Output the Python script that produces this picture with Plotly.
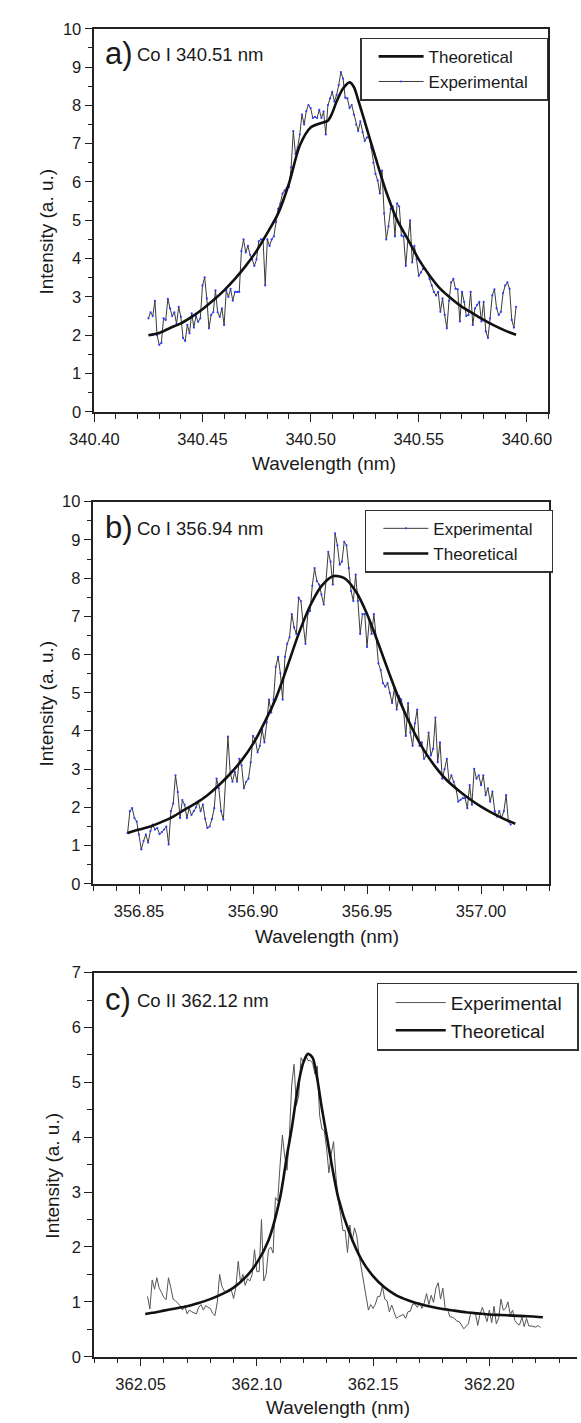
import plotly.graph_objects as go

W, H = 581, 1423

# ---------------- Panel a: Co I 340.51 nm ----------------
a_exp_x = [
    340.425, 340.426, 340.427, 340.428, 340.429, 340.430, 340.431, 340.432, 340.433, 340.434,
    340.435, 340.436, 340.437, 340.438, 340.439, 340.440, 340.441, 340.442, 340.443, 340.444,
    340.445, 340.446, 340.447, 340.448, 340.449, 340.450, 340.451, 340.452, 340.453, 340.454,
    340.455, 340.456, 340.457, 340.458, 340.459, 340.460, 340.461, 340.462, 340.463, 340.464,
    340.465, 340.466, 340.467, 340.468, 340.469, 340.470, 340.471, 340.472, 340.473, 340.474,
    340.475, 340.476, 340.477, 340.478, 340.479, 340.480, 340.481, 340.482, 340.483, 340.484,
    340.485, 340.486, 340.487, 340.488, 340.489, 340.490, 340.491, 340.492, 340.493, 340.494,
    340.495, 340.496, 340.497, 340.498, 340.499, 340.500, 340.501, 340.502, 340.503, 340.504,
    340.505, 340.506, 340.507, 340.508, 340.509, 340.510, 340.511, 340.512, 340.513, 340.514,
    340.515, 340.516, 340.517, 340.518, 340.519, 340.520, 340.521, 340.522, 340.523, 340.524,
    340.525, 340.526, 340.527, 340.528, 340.529, 340.530, 340.531, 340.532, 340.533, 340.534,
    340.535, 340.536, 340.537, 340.538, 340.539, 340.540, 340.541, 340.542, 340.543, 340.544,
    340.545, 340.546, 340.547, 340.548, 340.549, 340.550, 340.551, 340.552, 340.553, 340.554,
    340.555, 340.556, 340.557, 340.558, 340.559, 340.560, 340.561, 340.562, 340.563, 340.564,
    340.565, 340.566, 340.567, 340.568, 340.569, 340.570, 340.571, 340.572, 340.573, 340.574,
    340.575, 340.576, 340.577, 340.578, 340.579, 340.580, 340.581, 340.582, 340.583, 340.584,
    340.585, 340.586, 340.587, 340.588, 340.589, 340.590, 340.591, 340.592, 340.593, 340.594,
    340.595]
a_exp_y = [
    2.44, 2.6, 2.5, 2.9, 2.0, 1.75, 1.8, 2.44, 2.4, 2.95,
    2.7, 2.5, 2.6, 2.3, 2.74, 2.48, 1.93, 1.85, 2.27, 2.05,
    2.57, 2.2, 2.5, 2.35, 2.44, 3.3, 3.51, 2.96, 2.18, 2.53,
    2.6, 3.17, 2.6, 2.48, 2.7, 2.27, 3.17, 3.0, 3.21, 2.9,
    3.13, 3.13, 3.13, 4.2, 4.5, 4.16, 4.33, 4.1, 3.98, 3.81,
    3.98, 4.45, 4.5, 4.5, 3.3, 4.5, 4.33, 4.5, 4.58, 4.95,
    5.3, 5.44, 5.7, 5.78, 5.85, 5.87, 6.38, 7.33, 6.73, 6.9,
    7.24, 7.76, 7.5, 7.85, 8.01, 7.93, 7.67, 7.7, 7.67, 7.88,
    7.67, 7.84, 7.24, 8.01, 8.18, 8.35, 8.1, 8.27, 8.53, 8.87,
    8.7, 8.2, 8.18, 7.93, 8.01, 7.76, 7.5, 7.33, 7.58, 7.3,
    7.07, 7.16, 7.2, 6.9, 6.5, 6.21, 6.04, 5.7, 6.3, 5.18,
    4.5, 4.84, 5.3, 5.36, 4.58, 5.44, 5.36, 4.6, 4.58, 3.81,
    4.5, 5.0, 3.9, 4.33, 3.98, 3.55, 3.64, 3.73, 3.73, 3.64,
    3.47, 3.3, 3.13, 3.04, 3.13, 2.61, 2.96, 2.53, 2.18, 2.9,
    3.38, 3.47, 3.21, 3.2, 2.36, 3.13, 2.87, 2.5, 2.53, 3.13,
    2.27, 2.7, 2.79, 2.87, 2.36, 2.87, 2.1, 1.93, 2.44, 3.04,
    3.2, 2.7, 2.53, 2.61, 3.1, 3.3, 3.38, 3.21, 2.4, 2.2,
    2.74]
a_th_x = [340.425, 340.430, 340.435, 340.440, 340.445, 340.450, 340.455, 340.460, 340.465,
          340.470, 340.475, 340.480, 340.485, 340.490, 340.495, 340.500, 340.505, 340.508,
          340.510, 340.512, 340.515, 340.518, 340.520, 340.522, 340.525, 340.530, 340.535,
          340.540, 340.545, 340.550, 340.555, 340.560, 340.565, 340.570, 340.575, 340.580,
          340.585, 340.590, 340.595]
a_th_y = [2.0, 2.06, 2.19, 2.31, 2.48, 2.68, 2.91, 3.17, 3.47,
          3.81, 4.2, 4.67, 5.18, 5.96, 6.95, 7.42, 7.54, 7.6,
          7.8, 8.1, 8.44, 8.6, 8.48, 8.14, 7.58, 6.64, 5.74,
          5.01, 4.5, 3.98, 3.56, 3.21, 2.96, 2.74, 2.57, 2.4,
          2.25, 2.12, 2.01]

# ---------------- Panel b: Co I 356.94 nm ----------------
b_exp_x = [
    356.845, 356.846, 356.847, 356.848, 356.849, 356.850, 356.851, 356.852, 356.853, 356.854,
    356.855, 356.856, 356.857, 356.858, 356.859, 356.860, 356.861, 356.862, 356.863, 356.864,
    356.865, 356.866, 356.867, 356.868, 356.869, 356.870, 356.871, 356.872, 356.873, 356.874,
    356.875, 356.876, 356.877, 356.878, 356.879, 356.880, 356.881, 356.882, 356.883, 356.884,
    356.885, 356.886, 356.887, 356.888, 356.889, 356.890, 356.891, 356.892, 356.893, 356.894,
    356.895, 356.896, 356.897, 356.898, 356.899, 356.900, 356.901, 356.902, 356.903, 356.904,
    356.905, 356.906, 356.907, 356.908, 356.909, 356.910, 356.911, 356.912, 356.913, 356.914,
    356.915, 356.916, 356.917, 356.918, 356.919, 356.920, 356.921, 356.922, 356.923, 356.924,
    356.925, 356.926, 356.927, 356.928, 356.929, 356.930, 356.931, 356.932, 356.933, 356.934,
    356.935, 356.936, 356.937, 356.938, 356.939, 356.940, 356.941, 356.942, 356.943, 356.944,
    356.945, 356.946, 356.947, 356.948, 356.949, 356.950, 356.951, 356.952, 356.953, 356.954,
    356.955, 356.956, 356.957, 356.958, 356.959, 356.960, 356.961, 356.962, 356.963, 356.964,
    356.965, 356.966, 356.967, 356.968, 356.969, 356.970, 356.971, 356.972, 356.973, 356.974,
    356.975, 356.976, 356.977, 356.978, 356.979, 356.980, 356.981, 356.982, 356.983, 356.984,
    356.985, 356.986, 356.987, 356.988, 356.989, 356.990, 356.991, 356.992, 356.993, 356.994,
    356.995, 356.996, 356.997, 356.998, 356.999, 357.000, 357.001, 357.002, 357.003, 357.004,
    357.005, 357.006, 357.007, 357.008, 357.009, 357.010, 357.011, 357.012, 357.013]
b_exp_y = [
    1.33, 1.9, 1.98, 1.72, 1.63, 1.29, 0.9, 1.12, 1.29, 1.08,
    1.38, 1.55, 1.42, 1.46, 1.3, 1.35, 1.42, 1.5, 1.03, 1.9,
    2.1, 2.84, 2.4, 1.72, 2.19, 2.07, 1.72, 1.98, 1.8, 1.9,
    2.0, 2.15, 1.9, 2.07, 1.7, 1.46, 1.5, 1.7, 1.98, 2.75,
    2.5, 1.9, 1.68, 2.75, 3.85, 2.9, 2.67, 2.93, 2.67, 3.27,
    3.1, 2.5, 2.67, 2.75, 3.18, 3.87, 3.79, 3.44, 3.61, 4.04,
    3.7, 4.22, 4.82, 4.48, 4.82, 5.68, 5.94, 5.51, 4.82, 5.94,
    6.28, 6.45, 7.06, 6.71, 6.54, 7.49, 7.4, 6.8, 6.28, 7.06,
    7.14, 7.8, 8.26, 7.92, 7.83, 7.57, 7.31, 7.92, 8.69, 8.43,
    7.83, 9.17, 8.86, 8.35, 8.43, 8.95, 8.86, 8.26, 7.66, 7.4,
    8.09, 7.4, 6.54, 7.06, 7.06, 6.2, 6.9, 6.54, 7.06, 6.45,
    5.77, 5.59, 5.25, 5.16, 5.25, 4.99, 4.73, 5.12, 4.56, 4.91,
    4.82, 4.56, 3.87, 4.73, 3.96, 3.61, 4.2, 4.56, 3.61, 3.7,
    3.27, 3.36, 3.96, 3.36, 3.53, 4.35, 3.18, 3.7, 2.75, 3.0,
    3.27, 2.67, 2.84, 2.67, 2.5, 2.15, 2.2, 2.24, 2.24, 1.98,
    2.58, 2.07, 3.01, 2.75, 2.84, 2.58, 2.84, 2.32, 2.5, 2.15,
    2.41, 1.9, 1.76, 1.9, 1.72, 1.9, 2.32, 1.63, 1.55]
b_th_x = [356.845, 356.850, 356.855, 356.860, 356.865, 356.870, 356.875, 356.880, 356.885,
          356.890, 356.895, 356.900, 356.905, 356.910, 356.915, 356.920, 356.925, 356.930,
          356.935, 356.940, 356.945, 356.950, 356.955, 356.960, 356.965, 356.970, 356.975,
          356.980, 356.985, 356.990, 356.995, 357.000, 357.005, 357.010, 357.015]
b_th_y = [1.33, 1.42, 1.5, 1.62, 1.76, 1.94, 2.11, 2.32, 2.58,
          2.88, 3.23, 3.66, 4.22, 4.85, 5.68, 6.54, 7.27, 7.79,
          8.05, 8.0, 7.66, 7.06, 6.28, 5.46, 4.69, 4.04, 3.49,
          3.06, 2.71, 2.45, 2.22, 2.02, 1.85, 1.7, 1.57]

# ---------------- Panel c: Co II 362.12 nm ----------------
c_exp_x = [
    362.053, 362.054, 362.055, 362.056, 362.057, 362.058, 362.059, 362.060, 362.061, 362.062,
    362.063, 362.064, 362.065, 362.066, 362.067, 362.068, 362.069, 362.070, 362.071, 362.072,
    362.073, 362.074, 362.075, 362.076, 362.077, 362.078, 362.079, 362.080, 362.081, 362.082,
    362.083, 362.084, 362.085, 362.086, 362.087, 362.088, 362.089, 362.090, 362.091, 362.092,
    362.093, 362.094, 362.095, 362.096, 362.097, 362.098, 362.099, 362.100, 362.101, 362.102,
    362.103, 362.104, 362.105, 362.106, 362.107, 362.108, 362.109, 362.110, 362.111, 362.112,
    362.113, 362.114, 362.115, 362.116, 362.117, 362.118, 362.119, 362.120, 362.121, 362.122,
    362.123, 362.124, 362.125, 362.126, 362.127, 362.128, 362.129, 362.130, 362.131, 362.132,
    362.133, 362.134, 362.135, 362.136, 362.137, 362.138, 362.139, 362.140, 362.141, 362.142,
    362.143, 362.144, 362.145, 362.146, 362.147, 362.148, 362.149, 362.150, 362.151, 362.152,
    362.153, 362.154, 362.155, 362.156, 362.157, 362.158, 362.159, 362.160, 362.161, 362.162,
    362.163, 362.164, 362.165, 362.166, 362.167, 362.168, 362.169, 362.170, 362.171, 362.172,
    362.173, 362.174, 362.175, 362.176, 362.177, 362.178, 362.179, 362.180, 362.181, 362.182,
    362.183, 362.184, 362.185, 362.186, 362.187, 362.188, 362.189, 362.190, 362.191, 362.192,
    362.193, 362.194, 362.195, 362.196, 362.197, 362.198, 362.199, 362.200, 362.201, 362.202,
    362.203, 362.204, 362.205, 362.206, 362.207, 362.208, 362.209, 362.210, 362.211, 362.212,
    362.213, 362.214, 362.215, 362.216, 362.217, 362.218, 362.219, 362.220, 362.221, 362.222]
c_exp_y = [
    1.1, 0.87, 1.4, 1.23, 1.44, 1.25, 1.17, 1.08, 1.04, 1.44,
    1.26, 1.05, 1.02, 0.97, 0.93, 0.85, 0.93, 0.78, 0.85, 0.82,
    0.8, 0.78, 0.9, 0.95, 0.85, 0.93, 0.9, 0.88, 0.79, 0.75,
    1.0, 1.5, 1.28, 1.2, 1.17, 1.2, 1.22, 1.06, 1.27, 1.74,
    1.35, 1.5, 1.3, 1.42, 1.38, 1.5, 1.95, 1.55, 1.55, 2.5,
    1.38, 1.5, 1.95, 2.0, 1.89, 2.9, 2.84, 3.5, 4.04, 3.65,
    3.4, 4.04, 4.95, 5.33, 4.58, 4.75, 5.45, 5.38, 5.5, 5.4,
    5.4, 5.35, 5.15, 5.3, 4.4, 4.15, 4.12, 3.8, 3.35, 3.7,
    3.92, 3.3, 2.85, 2.6, 2.3, 2.3, 1.9, 2.4, 2.1, 2.35,
    2.2, 1.85, 1.6, 1.38, 1.1, 0.85, 0.95, 0.88, 0.96, 1.1,
    1.1, 1.29, 1.05, 1.02, 0.82, 0.94, 0.82, 0.7, 0.73, 0.75,
    0.77, 0.7, 0.82, 0.83, 0.96, 0.96, 0.9, 0.99, 0.88, 0.98,
    1.15, 0.95, 1.12, 0.99, 1.25, 1.35, 1.05, 1.25, 0.88, 0.87,
    0.73, 0.72, 0.7, 0.65, 0.64, 0.58, 0.51, 0.55, 0.6, 0.8,
    0.8, 0.8, 0.57, 0.78, 0.9, 0.78, 0.64, 0.85, 0.62, 0.92,
    0.6, 0.7, 1.05, 0.85, 0.88, 1.0, 0.76, 0.85, 0.66, 0.6,
    0.58, 0.72, 0.55, 0.7, 0.56, 0.56, 0.55, 0.54, 0.57, 0.53]
c_th_x = [362.052, 362.055, 362.060, 362.065, 362.070, 362.075, 362.080, 362.085, 362.090,
          362.095, 362.100, 362.105, 362.110, 362.113, 362.115, 362.118, 362.120, 362.122,
          362.124, 362.126, 362.128, 362.130, 362.135, 362.140, 362.145, 362.150, 362.155,
          362.160, 362.165, 362.170, 362.175, 362.180, 362.185, 362.190, 362.195, 362.200,
          362.205, 362.210, 362.215, 362.220, 362.223]
c_th_y = [0.78, 0.8, 0.84, 0.88, 0.92, 0.98, 1.05, 1.14, 1.26,
          1.44, 1.71, 2.12, 2.9, 3.68, 4.16, 5.0, 5.36, 5.52,
          5.45, 5.06, 4.52, 4.04, 2.9, 2.24, 1.77, 1.47, 1.26,
          1.12, 1.03, 0.96, 0.91, 0.87, 0.84, 0.81, 0.79, 0.77,
          0.76, 0.75, 0.74, 0.73, 0.72]

labels = ["a)", "b)", "c)"]
lines = ["Co I 340.51 nm", "Co I 356.94 nm", "Co II 362.12 nm"]
x_ranges = [[340.40, 340.61], [356.83, 357.03], [362.03, 362.2377]]
y_ranges = [[0, 10], [0, 10], [0, 7]]
x_tick0 = [340.40, 356.85, 362.05]

FONT = "Liberation Sans, Arial, Helvetica, sans-serif"
TXT = "#1a1a1a"
AX = "#222222"
PADS = ["\u00a0\u00a0\u00a0", "\u00a0\u00a0\u00a0", "\u00a0\u00a0"]


def px_x(p):
    return p / W


def px_y(p):
    return 1 - p / H


# panel geometry in pixels: (left, right, top, bottom)
geom = [(73, 551, 20, 408), (72, 552, 499, 886), (72.7, 581, 976, 1365)]

fig = go.Figure()

panels = [
    (a_exp_x, a_exp_y, a_th_x, a_th_y, True, (2, 1)),
    (b_exp_x, b_exp_y, b_th_x, b_th_y, True, (1, 2)),
    (c_exp_x, c_exp_y, c_th_x, c_th_y, False, (1, 2)),
]

for i, (ex, ey, tx, ty, dots, ranks) in enumerate(panels):
    sfx = "" if i == 0 else str(i + 1)
    leg = "legend" + sfx
    if dots:
        exp_trace = go.Scatter(
            x=ex, y=ey, mode="lines+markers", name="Experimental" + PADS[i],
            line=dict(color="#3a3a3a", width=1),
            marker=dict(color="#2b3cff", size=2.2),
            xaxis="x" + sfx, yaxis="y" + sfx, legend=leg, legendrank=ranks[0])
    else:
        exp_trace = go.Scatter(
            x=ex, y=ey, mode="lines", name="Experimental" + PADS[i],
            line=dict(color="#555555", width=1),
            xaxis="x" + sfx, yaxis="y" + sfx, legend=leg, legendrank=ranks[0])
    fig.add_trace(exp_trace)
    fig.add_trace(go.Scatter(
        x=tx, y=ty, mode="lines", name="Theoretical",
        line=dict(color="#111111", width=2.6, shape="spline", smoothing=0.8),
        xaxis="x" + sfx, yaxis="y" + sfx, legend=leg, legendrank=ranks[1]))

layout = dict(
    width=W, height=H,
    margin=dict(l=0, r=0, t=0, b=0),
    paper_bgcolor="white", plot_bgcolor="white",
    font=dict(family=FONT, size=16, color=TXT),
    showlegend=True,
)

annotations = []
# (left px, top px, font size, item width, indentation)
leg_pos = [(353, 29, 17, 45, 12), (358, 507, 17, 45, 12), (370, 986, 19, 50, 13)]
xtitle_pos = [(315, 460), (318, 939), (329, 1416)]
ytitle_pos = [(22.5, 225), (22.5, 703), (28, 1182)]

for i in range(3):
    sfx = "" if i == 0 else str(i + 1)
    l, r, t, b = geom[i]
    layout["xaxis" + sfx] = dict(
        domain=[px_x(l), px_x(r)], anchor="y" + sfx, range=x_ranges[i],
        tick0=x_tick0[i], dtick=0.05, tickformat=".2f",
        ticks="outside", ticklen=8, tickwidth=1.3, tickcolor=AX,
        minor=dict(dtick=0.01, tick0=x_tick0[i], ticks="outside", ticklen=5,
                   tickwidth=1.2, tickcolor=AX, showgrid=False),
        showline=True, linecolor=AX, linewidth=1.5, mirror=True,
        showgrid=False, zeroline=False,
        tickfont=dict(size=16.5, color=TXT, family=FONT), ticklabelstandoff=4)
    layout["yaxis" + sfx] = dict(
        domain=[px_y(b), px_y(t)], anchor="x" + sfx, range=y_ranges[i],
        dtick=1, tick0=0,
        ticks="outside", ticklen=8, tickwidth=1.3, tickcolor=AX,
        minor=dict(dtick=0.5, tick0=0, ticks="outside", ticklen=5,
                   tickwidth=1.2, tickcolor=AX, showgrid=False),
        showline=True, linecolor=AX, linewidth=1.5,
        mirror=(i < 2),
        showgrid=False, zeroline=False,
        tickfont=dict(size=16.5, color=TXT, family=FONT))
    lx, ly, lf, iw, ind = leg_pos[i]
    layout["legend" + sfx] = dict(
        x=px_x(lx), y=px_y(ly), xanchor="left", yanchor="top",
        xref="paper", yref="paper",
        bordercolor="#333333", borderwidth=1.2, bgcolor="white",
        font=dict(size=lf, color=TXT, family=FONT),
        itemwidth=iw, indentation=ind, tracegroupgap=0, traceorder="normal")

    cy = [45, 525, 1003][i]
    annotations.append(dict(
        text=labels[i], x=px_x(82), y=px_y(cy), xref="paper", yref="paper",
        xanchor="left", yanchor="middle", showarrow=False,
        font=dict(size=31, color=TXT, family=FONT)))
    annotations.append(dict(
        text=lines[i], x=px_x(116), y=px_y(cy + 1), xref="paper", yref="paper",
        xanchor="left", yanchor="middle", showarrow=False,
        font=dict(size=18.5, color=TXT, family=FONT)))
    tx, ty = xtitle_pos[i]
    annotations.append(dict(
        text="Wavelength (nm)", x=px_x(tx), y=px_y(ty), xref="paper", yref="paper",
        xanchor="center", yanchor="middle", showarrow=False,
        font=dict(size=19, color=TXT, family=FONT)))
    yx, yy = ytitle_pos[i]
    annotations.append(dict(
        text="Intensity (a. u.)", x=px_x(yx), y=px_y(yy), xref="paper", yref="paper",
        xanchor="center", yanchor="middle", textangle=-90, showarrow=False,
        font=dict(size=19, color=TXT, family=FONT)))

layout["annotations"] = annotations
fig.update_layout(**layout)

fig.write_html("out.html")
